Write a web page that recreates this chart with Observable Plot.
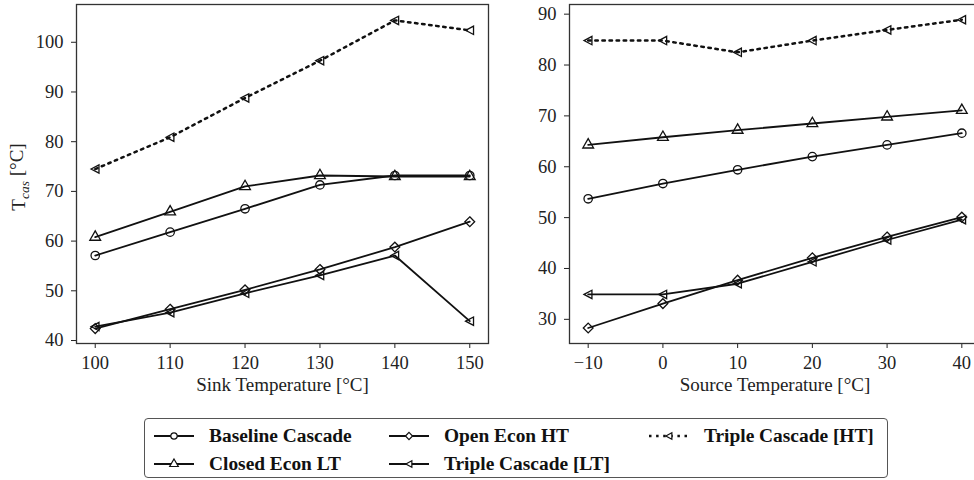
<!DOCTYPE html>
<html><head><meta charset="utf-8">
<script src="https://cdn.jsdelivr.net/npm/d3@7"></script>
<script src="https://cdn.jsdelivr.net/npm/@observablehq/plot@0.6"></script>
<style>
body{margin:0;background:#fff;}
#wrap{position:relative;width:974px;height:480px;overflow:hidden;font-family:"Liberation Serif","DejaVu Serif","Noto Serif",serif;color:#111;}
#left{position:absolute;left:0;top:0;width:490px;}
#right{position:absolute;left:490px;top:0;width:492px;}
#legend{position:absolute;left:144px;top:418px;width:744px;height:60px;border:1.3px solid #555;border-radius:4px;box-sizing:border-box;}
.item{position:absolute;display:flex;align-items:center;height:24px;font-weight:bold;font-size:19.4px;white-space:nowrap;}
.item svg{margin-right:14px;}
</style></head><body>
<div id="wrap"><div id="left"></div><div id="right"></div><div id="legend"></div></div>
<script>
// ---- data ----
const seriesNames = ["Baseline Cascade", "Closed Econ LT", "Open Econ HT", "Triple Cascade [LT]", "Triple Cascade [HT]"];

const sinkTemps = [100, 110, 120, 130, 140, 150];
const sinkBaseline  = [57.1, 61.8, 66.5, 71.3, 73.2, 73.2];
const sinkClosedLT  = [60.8, 65.9, 71.0, 73.2, 73.0, 73.0];
const sinkOpenHT    = [42.4, 46.3, 50.2, 54.3, 58.8, 63.9];
const sinkTripleLT  = [42.8, 45.6, 49.5, 53.1, 57.1, 43.9];
const sinkTripleHT  = [74.5, 80.9, 88.8, 96.3, 104.4, 102.4];

const sourceTemps = [-10, 0, 10, 20, 30, 40];
const sourceBaseline = [53.7, 56.7, 59.4, 62.0, 64.3, 66.6];
const sourceClosedLT = [64.3, 65.8, 67.2, 68.5, 69.8, 71.1];
const sourceOpenHT   = [28.3, 33.1, 37.7, 42.1, 46.2, 50.1];
const sourceTripleLT = [34.9, 34.9, 37.0, 41.3, 45.6, 49.6];
const sourceTripleHT = [84.8, 84.8, 82.5, 84.8, 86.9, 88.9];

const sinkTicks = [100, 110, 120, 130, 140, 150];
const sinkYTicks = [40, 50, 60, 70, 80, 90, 100];
const sourceTicks = [-10, 0, 10, 20, 30, 40];
const sourceYTicks = [30, 40, 50, 60, 70, 80, 90];

// ---- styles ----
const FONT = '"Liberation Serif", "DejaVu Serif", "Noto Serif", serif';
const triLeft = {draw(ctx, size) {
  const s = Math.sqrt(size) * 0.56;
  ctx.moveTo(-s, 0); ctx.lineTo(s * 0.9, -s); ctx.lineTo(s * 0.9, s); ctx.closePath();
}};
const styles = [
  {symbol: "circle", r: 4.2, dash: null, width: 1.8},
  {symbol: "triangle", r: 4.0, dash: null, width: 1.8},
  {symbol: "diamond2", r: 4.4, dash: null, width: 1.8},
  {symbol: triLeft, r: 4.2, dash: null, width: 1.8},
  {symbol: triLeft, r: 4.2, dash: "2.5,4.6", width: 2.5}
];
const INK = "#111";

function panel(xs, seriesVals, o) {
  const marks = [Plot.frame({stroke: "#333", strokeWidth: 1.3})];
  seriesVals.forEach((vals, i) => {
    const st = styles[i];
    const data = xs.map((x, j) => ({x, y: vals[j], s: seriesNames[i]}));
    marks.push(Plot.line(data, {x: "x", y: "y", stroke: INK, strokeWidth: st.width, strokeDasharray: st.dash}));
    marks.push(Plot.dot(data, {x: "x", y: "y", symbol: st.symbol, r: st.r, stroke: INK, strokeWidth: 1.3, fill: "none"}));
  });
  return Plot.plot({
    width: o.width, height: 400,
    marginLeft: o.ml, marginRight: o.mr, marginTop: 4, marginBottom: 57,
    style: {fontFamily: FONT, fontSize: "18.5px", color: "#222", background: "#fff", overflow: "visible", maxWidth: "none"},
    x: {domain: o.xd, ticks: o.xt, tickSize: 5, tickPadding: 7, label: o.xlabel, labelAnchor: "center", labelOffset: 47, labelArrow: "none", tickFormat: d => d < 0 ? "\u2212" + (-d) : String(d)},
    y: {domain: o.yd, ticks: o.yt, tickSize: 5, tickPadding: 8, label: null},
    marks
  });
}

const left = panel(sinkTemps, [sinkBaseline, sinkClosedLT, sinkOpenHT, sinkTripleLT, sinkTripleHT],
  {width: 490, ml: 76, mr: 2, xd: [97.5, 152.5], xt: sinkTicks, yd: [39.4, 107.6], yt: sinkYTicks, xlabel: "Sink Temperature [°C]"});
const right = panel(sourceTemps, [sourceBaseline, sourceClosedLT, sourceOpenHT, sourceTripleLT, sourceTripleHT],
  {width: 492, ml: 79, mr: 2, xd: [-12.5, 42.5], xt: sourceTicks, yd: [25.25, 91.9], yt: sourceYTicks, xlabel: "Source Temperature [°C]"});
document.getElementById("left").appendChild(left);
document.getElementById("right").appendChild(right);

// axis-label font size tweak (x labels slightly larger than ticks)
for (const svg of [left, right]) {
  d3.select(svg).selectAll("text").filter(function() { return /Temperature/.test(this.textContent); })
    .style("font-size", "19px");
}

// y-axis label with italic subscript
const yl = d3.select(left).append("text")
  .attr("transform", "translate(25,177) rotate(-90)")
  .attr("text-anchor", "middle")
  .attr("fill", "#222")
  .style("font-family", FONT)
  .style("font-size", "19px");
yl.append("tspan").text("T");
yl.append("tspan").attr("font-style", "italic").attr("font-size", "13.5px").attr("dy", "0.3em").text("cas");
yl.append("tspan").attr("dy", "-0.3em").text(" [°C]");

// legend
const legend = d3.select("#legend");
const pos = [
  {left: 8, top: 5}, {left: 8, top: 33}, {left: 243, top: 5}, {left: 243, top: 33}, {left: 503, top: 5}
];
seriesNames.forEach((name, i) => {
  const st = styles[i];
  const it = legend.append("div").attr("class", "item").style("left", pos[i].left + "px").style("top", pos[i].top + "px");
  const svg = it.append("svg").attr("width", 42).attr("height", 16);
  svg.append("line").attr("x1", 1).attr("x2", 41).attr("y1", 8).attr("y2", 8)
    .attr("stroke", INK).attr("stroke-width", st.width).attr("stroke-dasharray", st.dash);
  const symType = typeof st.symbol === "string" ? {circle: d3.symbolCircle, triangle: d3.symbolTriangle, diamond2: d3.symbolDiamond2}[st.symbol] : st.symbol;
  svg.append("path").attr("transform", "translate(21,8)")
    .attr("d", d3.symbol(symType, Math.PI * 3.2 * 3.2)())
    .attr("fill", "#fff").attr("stroke", INK).attr("stroke-width", 1.2);
  it.append("span").text(name);
});
</script>
</body></html>
